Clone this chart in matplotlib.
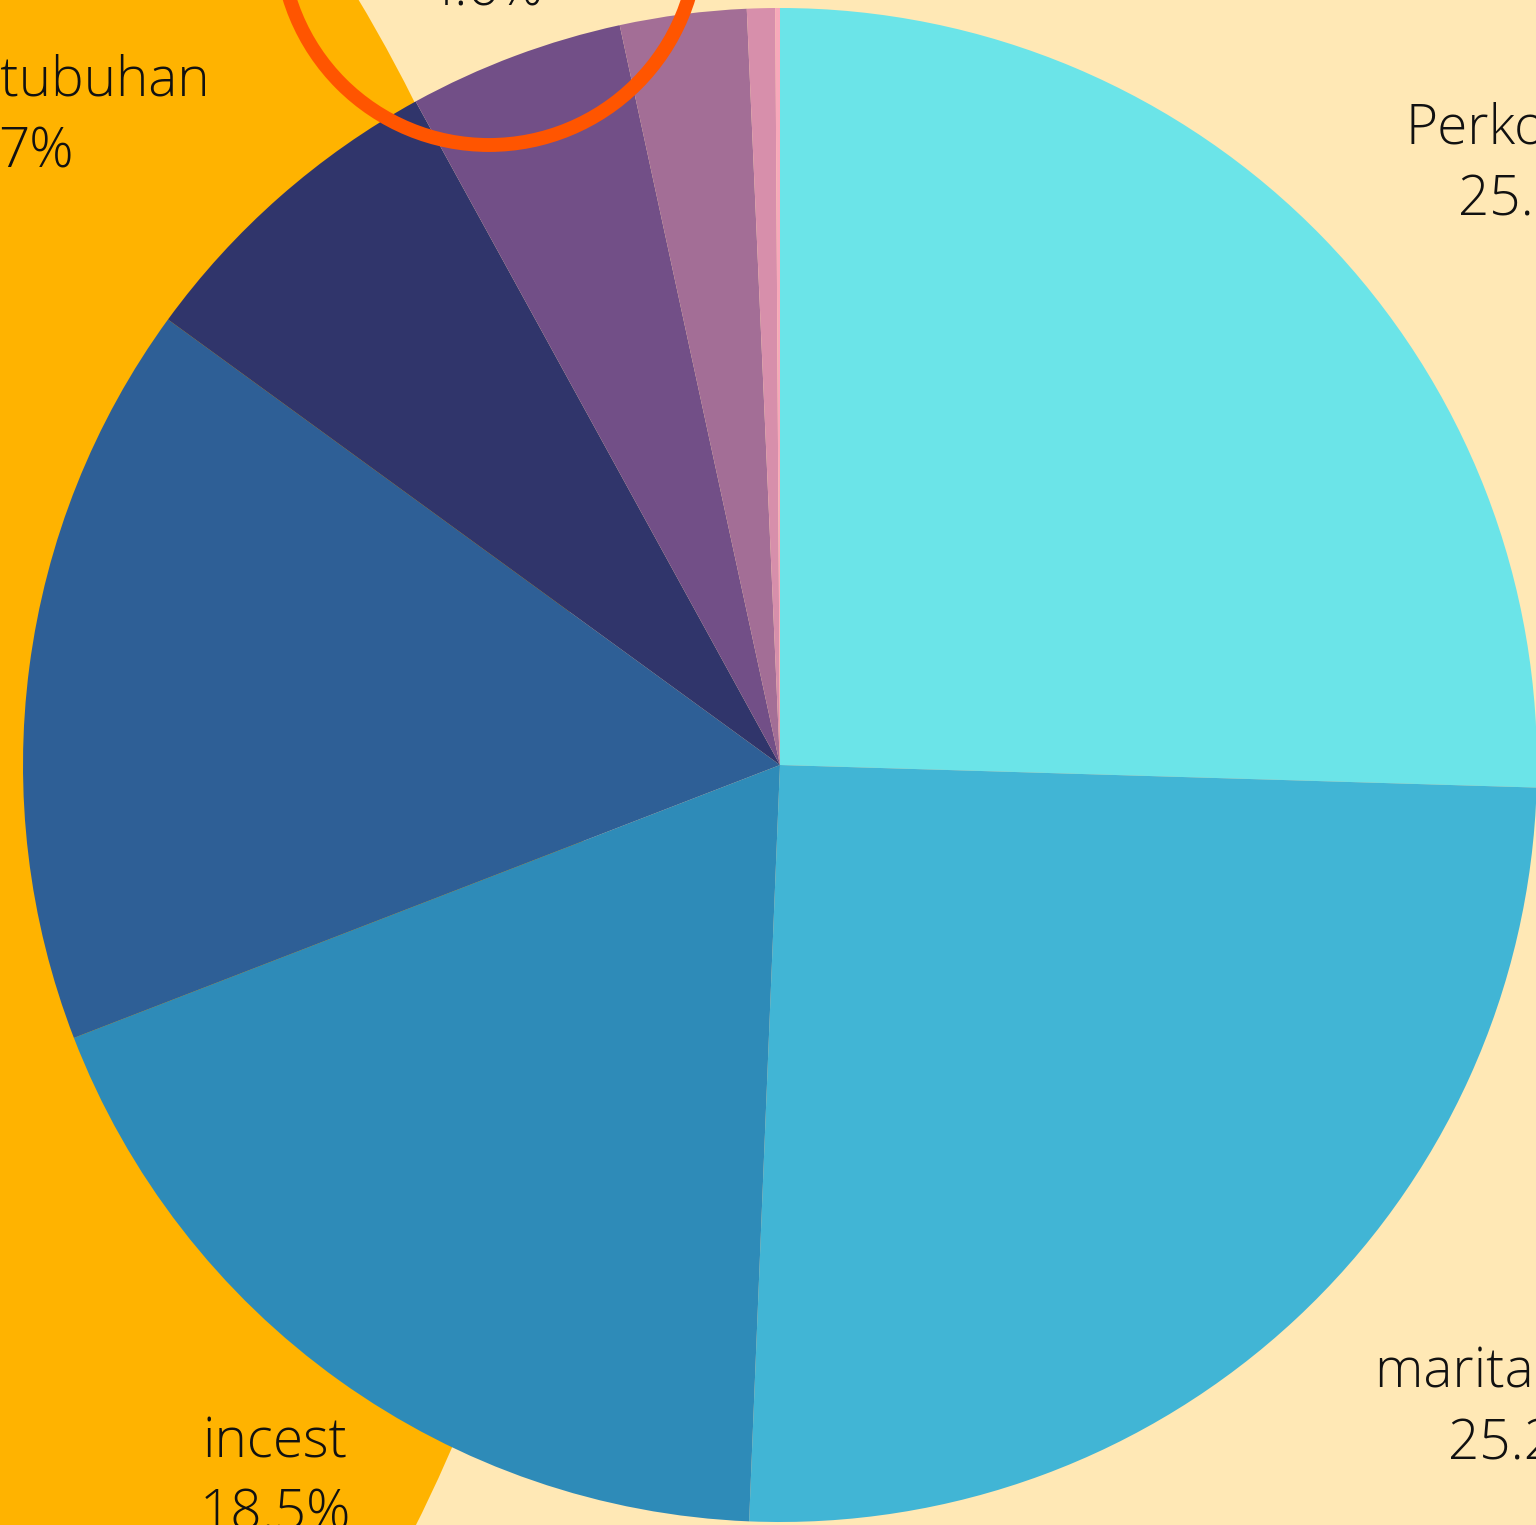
import matplotlib

matplotlib.use("Agg")
import matplotlib.pyplot as plt
from matplotlib.patches import Circle

# slices, clockwise from 12 o'clock
categories = ["Perkosaan", "marital rape", "incest", "pencabulan", "Persetubuhan",
              "lainnya", "eksploitasi", "pelecehan", "lain-lain"]
shares = [25.5, 25.2, 18.5, 15.9, 7.0, 4.6, 2.7, 0.6, 0.1]
colors = ["#6BE4E8", "#41B5D5", "#2E8BB8", "#2E5F96", "#30356B",
          "#724F87", "#A36E96", "#D78FAB", "#F7A8BA"]
pct_labels = ["25.5%", "25.2%", "18.5%", "15.9%", "7%", "4.6%", "2.7%", "0.6%", "0.1%"]

W, H = 1536, 1525
BG = "#FFE8B5"

fig = plt.figure(figsize=(W / 100, H / 100), dpi=100, facecolor=BG)
ax = fig.add_axes([0, 0, 1, 1])
ax.set_facecolor(BG)

# big orange backdrop disc on the left
ax.add_patch(Circle((-1010, H - 815), 1593, color="#FFB300", lw=0, zorder=0))

ax.pie(shares, colors=colors, startangle=90, counterclock=False,
       center=(780, H - 765), radius=757, frame=True,
       wedgeprops=dict(linewidth=0))

# highlight ring round the small slice
ax.add_patch(Circle((489, H + 64), 209, fill=False, ec="#FF5500", lw=10, zorder=5))

# label positions (centre x, first-line baseline y) in image pixels
label_pos = {
    "Perkosaan": (1534, 143),
    "marital rape": (1524, 1387),
    "incest": (275, 1458),
    "Persetubuhan": (36, 95),
}
font = dict(family=["Open Sans", "DejaVu Sans"], fontweight="light",
            fontsize=39.5, color="#111111", ha="center", va="baseline", zorder=6)
for name, pct in zip(categories, pct_labels):
    if name not in label_pos:
        continue
    x, y = label_pos[name]
    ax.text(x, H - y, name, **font)
    ax.text(x, H - y - 72, pct, **font)

# the 4.6% label sits above the frame, only its lower part shows
ax.text(484, H - 6, pct_labels[5], **font)

ax.set_xlim(0, W)
ax.set_ylim(0, H)
ax.set_aspect("equal")
ax.axis("off")
fig.savefig("out.png", dpi=100, facecolor=BG)
